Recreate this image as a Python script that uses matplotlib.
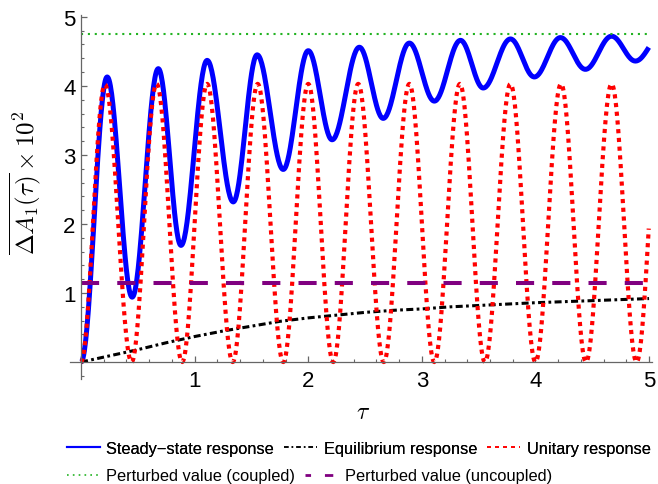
import numpy as np
import matplotlib
matplotlib.use('Agg')
import matplotlib.pyplot as plt
from matplotlib.lines import Line2D
from matplotlib.ticker import MultipleLocator

plt.rcParams['font.family'] = ['Liberation Sans', 'DejaVu Sans']
plt.rcParams['mathtext.fontset'] = 'cm'

# steady-state response: turning points (tau, value)
steady_t = [0.0, 0.23, 0.45, 0.68, 0.88, 1.11, 1.34, 1.55, 1.78, 2.00, 2.21, 2.45,
            2.66, 2.89, 3.11, 3.34, 3.54, 3.78, 3.99, 4.22, 4.44, 4.67, 4.88, 5.11]
steady_v = [0.0, 4.13, 0.94, 4.25, 1.69, 4.37, 2.32, 4.45, 2.79, 4.51, 3.22, 4.56,
            3.53, 4.62, 3.78, 4.66, 3.97, 4.68, 4.13, 4.70, 4.24, 4.72, 4.36, 4.74]

# unitary response: turning points
unitary_t = [0.0, 0.21, 0.445, 0.665, 0.89, 1.11, 1.335, 1.555, 1.78, 2.00, 2.22, 2.44,
             2.665, 2.89, 3.11, 3.335, 3.555, 3.78, 4.00, 4.225, 4.445, 4.67, 4.89, 5.11]
unitary_v = [0.0, 4.02, 0.0, 4.03, 0.0, 4.03, 0.0, 4.03, 0.0, 4.03, 0.0, 4.03,
             0.0, 4.03, 0.0, 4.03, 0.0, 4.03, 0.0, 4.03, 0.0, 4.03, 0.0, 4.03]

# equilibrium response
equil_t = [0.0, 0.25, 0.5, 0.75, 1.0, 1.25, 1.5, 1.75, 2.0, 2.25, 2.5, 2.75,
           3.0, 3.25, 3.5, 3.75, 4.0, 4.25, 4.5, 4.75, 5.0]
equil_v = [0.0, 0.09, 0.18, 0.28, 0.37, 0.45, 0.52, 0.59, 0.64, 0.68, 0.72, 0.75,
           0.77, 0.80, 0.82, 0.84, 0.86, 0.875, 0.89, 0.905, 0.92]

coupled_value = 4.75
uncoupled_value = 1.14
tau_end = 5.0

xticks = [1, 2, 3, 4, 5]
yticks = [1, 2, 3, 4, 5]


def through_turns(tx, vy, n=40):
    # smooth half-cosine pieces between consecutive turning points
    ts, vs = [], []
    for i in range(len(tx) - 1):
        s = np.linspace(0, 1, n)
        ts.append(tx[i] + (tx[i + 1] - tx[i]) * s)
        vs.append(vy[i] + (vy[i + 1] - vy[i]) * (1 - np.cos(np.pi * s)) / 2)
    t = np.concatenate(ts)
    v = np.concatenate(vs)
    keep = t <= tau_end
    return t[keep], v[keep]


fig = plt.figure(figsize=(6.58, 4.85), dpi=100)
ax = fig.add_axes([0.1064, 0.2165, 0.8845, 0.7495])

blue = '#0000ff'
red = '#ff0000'
green = '#22b322'
purple = '#800080'

t, v = through_turns(steady_t, steady_v)
ax.plot(t, v, color=blue, lw=3.6, solid_capstyle='butt')
ax.plot(equil_t, equil_v, color='black', lw=2.2,
        linestyle=(0, (2.3, 1.1, 0.9, 1.1)))
t, v = through_turns(unitary_t, unitary_v)
ax.plot(t, v, color=red, lw=3.0, linestyle=(0, (1.0, 1.1)))
ax.plot([0, tau_end], [coupled_value] * 2, color=green, lw=1.5,
        linestyle=(0, (1.0, 2.3)))
ax.plot([0, tau_end], [uncoupled_value] * 2, color=purple, lw=2.9,
        linestyle=(0, (4.5, 4.5)))

ax.set_xlim(-0.097, 5.026)
ax.set_ylim(-0.245, 5.02)

for side in ['top', 'right']:
    ax.spines[side].set_visible(False)
for side in ['left', 'bottom']:
    ax.spines[side].set_position(('data', 0))
    ax.spines[side].set_color('#666666')
    ax.spines[side].set_linewidth(0.9)

ax.set_xticks(xticks)
ax.set_yticks(yticks)
ax.xaxis.set_minor_locator(MultipleLocator(0.2))
ax.yaxis.set_minor_locator(MultipleLocator(0.2))
ax.tick_params(which='major', direction='in', length=4.5, width=0.9,
               color='#666666', labelsize=16, labelcolor='black')
ax.tick_params(which='minor', direction='in', length=2.5, width=0.8,
               color='#666666')
ax.tick_params(axis='x', which='major', pad=6)
ax.tick_params(axis='y', which='major', pad=4)

fig.text(0.040, 0.623, r'$\overline{\Delta A_1(\tau)}\times 10^2$',
         rotation=90, ha='center', va='center', fontsize=18)
fig.text(0.552, 0.1485, r'$\tau$', ha='center', va='center', fontsize=17)

# legend rows
row1 = [Line2D([], [], color=blue, lw=1.5),
        Line2D([], [], color='black', lw=1.1, linestyle=(0, (3, 2, 1, 2))),
        Line2D([], [], color=red, lw=1.2, linestyle=(0, (2.4, 2.4)))]
row1_labels = ['Steady\u2212state response', 'Equilibrium response', 'Unitary response']
row2 = [Line2D([], [], color=green, lw=1.2, linestyle=(0, (1, 2.5))),
        Line2D([], [], color=purple, lw=2.0, linestyle=(1, (3, 5)))]
row2_labels = ['Perturbed value (coupled)', 'Perturbed value (uncoupled)']

leg_kw = dict(loc='center left', frameon=False, fontsize=11.8, handlelength=2.0,
              handletextpad=0.4, columnspacing=0.62, borderpad=0, borderaxespad=0)
leg1 = fig.legend(row1, row1_labels, bbox_to_anchor=(0.102, 0.074), ncol=3, **leg_kw)
fig.add_artist(leg1)
fig.legend(row2, row2_labels, bbox_to_anchor=(0.102, 0.0165), ncol=2, **leg_kw)

fig.savefig('out.png', dpi=100)
